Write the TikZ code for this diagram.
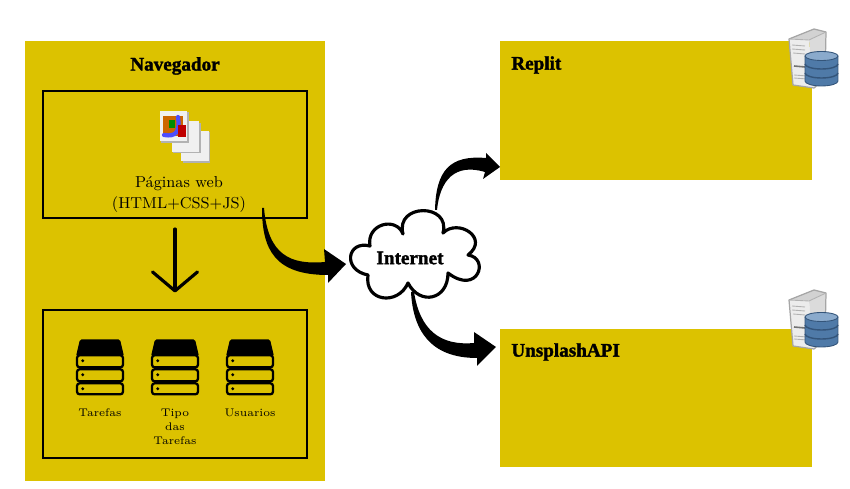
\documentclass[tikz,border=0pt]{standalone}
\usepackage{fontspec}
\usepackage{tikz}
\usetikzlibrary{arrows.meta}
\newfontfamily\heavyfont[BoldFeatures={FakeBold=1.6}]{Liberation Serif}
\definecolor{panelyellow}{HTML}{DCC200}
\definecolor{drumedge}{HTML}{4F7AA8}
\definecolor{drummid}{HTML}{A6C1DB}
\definecolor{drumtop}{HTML}{8AAACC}
\definecolor{drumline}{HTML}{34557A}
\tikzset{
  panel/.style={fill=panelyellow,draw=none,inner sep=0pt},
  frame/.style={draw=black,line width=1.1pt,inner sep=0pt},
  title/.style={font=\fontsize{10.9}{13}\heavyfont\bfseries,inner sep=0pt},
  caption/.style={font=\fontsize{9}{12}\selectfont,align=center},
  small/.style={font=\fontsize{6.3}{8}\selectfont,align=center,anchor=north},
  flow/.style={fill=black,draw=none},
  stack/.pic={
    \fill[black,rounded corners=1pt] (-20,0) -- (20,0) -- (24,17) -- (-24,17) -- cycle;
    \draw[black,fill=panelyellow,line width=1.3pt,rounded corners=1.5pt] (-23,16) rectangle (23,28);
    \draw[black,fill=panelyellow,line width=1.3pt,rounded corners=1.5pt] (-23,30) rectangle (23,42);
    \draw[black,fill=panelyellow,line width=1.3pt,rounded corners=1.5pt] (-23,44) rectangle (23,55);
    \fill[black] (-17.3,21.5) circle (1.6) (-17.3,35.5) circle (1.6) (-17.3,49.5) circle (1.6);
  },
  sheet/.pic={
    \fill[gray!60] (1.5,1.5) rectangle (29,32);
    \fill[gray!12] (0,0) rectangle (27.5,30.5);
  },
  server/.pic={
    \fill[gray!35] (1,10) -- (26,0) -- (38,3) -- (21,11) -- cycle;
    \fill[gray!15] (1,10) -- (21,11) -- (26,59) -- (5,56) -- cycle;
    \fill[gray!28] (21,11) -- (38,3) -- (37,50) -- (26,59) -- cycle;
    \draw[gray!70,line width=0.7pt,line join=round] (1,10) -- (26,0) -- (38,3) -- (37,50) -- (26,59) -- (5,56) -- cycle;
    \draw[gray!60,line width=0.5pt] (1,10) -- (21,11) -- (38,3);
    \draw[gray!60,line width=0.5pt] (4,16) -- (17,17) (4,20) -- (17,21) (5,24) -- (17,25) (6,46) -- (19,47) (6,49) -- (19,50);
    \draw[gray!90!black,line width=0.9pt] (6,37) -- (17,38);
    \shade[left color=drumedge,middle color=drummid,right color=drumedge]
      (17,27) -- (17,52) arc[start angle=180,end angle=0,x radius=16.5,y radius=5] -- (50,27) -- cycle;
    \fill[drumtop] (33.5,27) ellipse[x radius=16.5,y radius=4.5];
    \draw[drumline,line width=0.5pt] (17,27) -- (17,52) arc[start angle=180,end angle=0,x radius=16.5,y radius=5] -- (50,27);
    \draw[drumline,line width=0.5pt] (33.5,27) ellipse[x radius=16.5,y radius=4.5];
    \draw[drumline,line width=0.8pt] (17,35) arc[start angle=180,end angle=0,x radius=16.5,y radius=5];
    \draw[drumline,line width=0.8pt] (17,44) arc[start angle=180,end angle=0,x radius=16.5,y radius=5];
  }
}
\begin{document}
\begin{tikzpicture}[x=0.02cm,y=-0.02cm]
  \useasboundingbox (0,0) rectangle (850,489);
  % Panels
  \node[panel,minimum width=6cm,minimum height=8.8cm] (browser) at (175,261) {};
  \node[panel,minimum width=6.24cm,minimum height=2.78cm] (replit) at (656,110.5) {};
  \node[panel,minimum width=6.24cm,minimum height=2.76cm] (unsplash) at (656,398) {};
  \node[frame,minimum width=5.28cm,minimum height=2.54cm] (pages) at (175,154.5) {};
  \node[frame,minimum width=5.28cm,minimum height=2.96cm] (storage) at (175,384) {};
  % Titles
  \node[title] (browserTitle) at (175,66) {Navegador};
  \node[title,anchor=west] (replitTitle) at (511,65) {Replit};
  \node[title,anchor=west] (unsplashTitle) at (511,352) {UnsplashAPI};
  % Pages
  \pic at (181,131) {sheet};
  \pic at (171.5,121.5) {sheet};
  \pic at (159.5,111) {sheet};
  \fill[orange!80!black] (163,116) rectangle (183,136);
  \fill[green!55!black] (169,120) rectangle (175,128);
  \draw[blue!70,line width=2.4pt,line cap=round] (178,117) .. controls (180,132) and (176,137) .. (164,135);
  \fill[red!75!black] (178,125) rectangle (186,137);
  \node[caption] (pagesText) at (179,194.5) {Páginas web\\(HTML+CSS+JS)};
  % Down arrow
  \coordinate (arrowTop) at (175,229);
  \coordinate (arrowEnd) at (175,292.5);
  \draw[-{Straight Barb[round,length=0.38cm,width=0.9cm,line width=1.8pt]},line width=1.8pt,line cap=round] (arrowTop) -- (arrowEnd);
  % Stores
  \pic at (100,339.3) {stack};
  \pic at (175,339.3) {stack};
  \pic at (250,339.3) {stack};
  \node[small] (tasks) at (100,402.5) {Tarefas};
  \node[small] (types) at (175,402.5) {Tipo\\das\\Tarefas};
  \node[small] (users) at (250,402.5) {Usuarios};
  % Servers
  \pic at (788,29) {server};
  \pic at (788,290) {server};
  % Cloud
  \draw[line width=1.8pt,fill=white,line join=round] (368,275)
    .. controls (342,270) and (347,240) .. (370,246)
    .. controls (366,224) and (396,216) .. (403,234)
    .. controls (395,203) and (451,203) .. (443,233)
    .. controls (458,218) and (490,238) .. (468,255)
    .. controls (490,258) and (478,296) .. (448,273)
    .. controls (448,300) and (420,306) .. (408,283)
    .. controls (398,306) and (364,302) .. (368,275) -- cycle;
  \node[title] (internet) at (410,258) {Internet};
  % Connectors
  \coordinate (pagesOut) at (262,208);
  \coordinate (cloudIn) at (346,264);
  \coordinate (cloudTop) at (435,210);
  \coordinate (replitIn) at (500,167);
  \coordinate (cloudBottom) at (411,292);
  \coordinate (unsplashIn) at (496,347);
  \fill[flow] (pagesOut) .. controls (262,250) and (275,275) .. (328,275)
    -- (328,283) -- (cloudIn) -- (324,249) -- (325,262)
    .. controls (290,265) and (268,255) .. (264,208) -- cycle;
  \fill[flow] (cloudTop) .. controls (436,170) and (450,155) .. (486,158)
    -- (486,153) -- (replitIn) -- (483,179) -- (485,172)
    .. controls (455,163) and (440,180) .. (437,210) -- cycle;
  \fill[flow] (cloudBottom) .. controls (413,330) and (430,358) .. (477,358)
    -- (477,366) -- (unsplashIn) -- (474,332) -- (474,343)
    .. controls (440,346) and (420,330) .. (414,292) -- cycle;
\end{tikzpicture}
\end{document}
